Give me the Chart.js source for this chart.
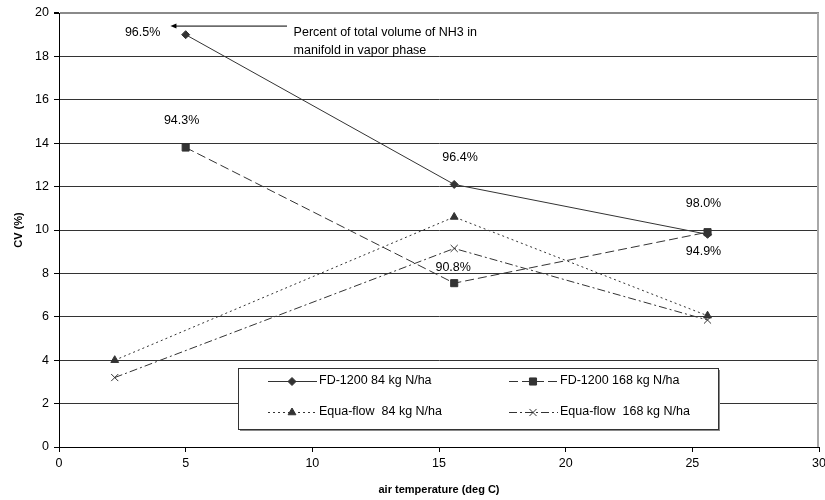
<!DOCTYPE html>
<html lang="en">
<head>
  <meta charset="UTF-8">
  <title>CV vs air temperature</title>
  <style>
    html, body { margin: 0; padding: 0; background: #fff; }
    .chart-box { position: relative; width: 825px; height: 500px; }
  </style>
  <script src="https://cdn.jsdelivr.net/npm/chart.js"></script>
</head>
<body>
  <div class="chart-box"><canvas id="cvChart"></canvas></div>

  <script>
    // data
    const fdTemps = [5.0, 15.6, 25.6];
    const equaTemps = [2.2, 15.6, 25.6];
    const fd84 = [19.0, 12.1, 9.8];
    const fd168 = [13.8, 7.55, 9.9];
    const equa84 = [4.0, 10.6, 6.05];
    const equa168 = [3.2, 9.15, 5.85];
    const seriesNames = ['FD-1200 84 kg N/ha', 'FD-1200 168 kg N/ha', 'Equa-flow  84 kg N/ha', 'Equa-flow  168 kg N/ha'];
    const fd84Pct = ['96.5%', '96.4%', '98.0%'];
    const fd168Pct = ['94.3%', '90.8%', '94.9%'];
    const noteLines = ['Percent of total volume of NH3 in', 'manifold in vapor phase'];
    const xTicks = [0, 5, 10, 15, 20, 25, 30];
    const yTicks = [0, 2, 4, 6, 8, 10, 12, 14, 16, 18, 20];

    const FONT = "'Liberation Sans', Arial, sans-serif";
    const FSIZE = 12.5;
    const INK = '#333';

    function pts(xs, ys) {
      return xs.map((x, i) => ({ x: x, y: ys[i] }));
    }

    // where the percent labels sit (data units)
    const pctPlaces = [
      [[3.3, 19.12], [15.83, 13.32], [25.44, 11.22]],
      [[4.84, 15.05], [15.56, 8.25], [25.44, 8.99]]
    ];

    const extras = {
      id: 'extras',
      afterDatasetsDraw(chart) {
        const { ctx, chartArea: a, scales } = chart;
        const sx = scales.x, sy = scales.y;
        ctx.save();

        // right frame line
        ctx.strokeStyle = '#a8a8a8';
        ctx.lineWidth = 2;
        ctx.beginPath();
        ctx.moveTo(a.right - 1, a.top);
        ctx.lineTo(a.right - 1, a.bottom);
        ctx.stroke();

        // percent labels
        ctx.fillStyle = '#000';
        ctx.font = FSIZE + 'px ' + FONT;
        ctx.textAlign = 'center';
        ctx.textBaseline = 'middle';
        [fd84Pct, fd168Pct].forEach((labels, s) => {
          labels.forEach((t, i) => {
            const p = pctPlaces[s][i];
            ctx.fillText(t, sx.getPixelForValue(p[0]), sy.getPixelForValue(p[1]));
          });
        });

        // arrow + note
        const ay = sy.getPixelForValue(19.42);
        const ax0 = sx.getPixelForValue(9.0);
        const ax1 = sx.getPixelForValue(4.4);
        ctx.strokeStyle = '#000';
        ctx.lineWidth = 1;
        ctx.beginPath();
        ctx.moveTo(ax0, ay + 0.5);
        ctx.lineTo(ax1 + 4, ay + 0.5);
        ctx.stroke();
        ctx.beginPath();
        ctx.moveTo(ax1, ay + 0.5);
        ctx.lineTo(ax1 + 6, ay - 2);
        ctx.lineTo(ax1 + 6, ay + 3);
        ctx.closePath();
        ctx.fill();

        ctx.textAlign = 'left';
        const nx = sx.getPixelForValue(9.26);
        const ny = sy.getPixelForValue(19.1);
        noteLines.forEach((t, i) => ctx.fillText(t, nx, ny + i * 18.5));

        // legend box
        const lx = 238, ly = 368, lw = 480, lh = 61;
        ctx.fillStyle = '#8a8a8a';
        ctx.fillRect(lx + 2, ly + 2, lw, lh);
        ctx.fillStyle = '#fff';
        ctx.fillRect(lx, ly, lw, lh);
        ctx.strokeStyle = INK;
        ctx.lineWidth = 1;
        ctx.strokeRect(lx + 0.5, ly + 0.5, lw, lh);

        chart.data.datasets.forEach((ds, i) => {
          const col = i % 2, row = Math.floor(i / 2);
          const x0 = lx + (col === 0 ? 30 : 271);
          const yy = ly + (row === 0 ? 13 : 44);
          ctx.strokeStyle = ds.borderColor;
          ctx.lineWidth = 1;
          ctx.setLineDash(ds.borderDash || []);
          ctx.beginPath();
          ctx.moveTo(x0, yy + 0.5);
          ctx.lineTo(x0 + 49, yy + 0.5);
          ctx.stroke();
          ctx.setLineDash([]);
          if (Chart.helpers && Chart.helpers.drawPoint) {
            ctx.fillStyle = ds.pointBackgroundColor;
            ctx.strokeStyle = ds.pointBorderColor;
            ctx.lineWidth = 1;
            Chart.helpers.drawPoint(ctx, { pointStyle: ds.pointStyle, radius: ds.pointRadius, rotation: 0, borderWidth: 1 }, x0 + 24, yy + 0.5);
          }
          ctx.fillStyle = '#000';
          ctx.font = FSIZE + 'px ' + FONT;
          ctx.textAlign = 'left';
          ctx.textBaseline = 'middle';
          ctx.fillText(ds.label, x0 + 51, yy);
        });

        ctx.restore();
      }
    };

    function lineSet(label, xs, ys, dash, style, radius) {
      return {
        label: label,
        data: pts(xs, ys),
        showLine: true,
        borderColor: INK,
        borderWidth: 1,
        borderDash: dash,
        pointStyle: style,
        pointRadius: radius,
        pointHoverRadius: radius,
        pointBackgroundColor: INK,
        pointBorderColor: INK,
        pointBorderWidth: 1
      };
    }

    new Chart(document.getElementById('cvChart'), {
      type: 'scatter',
      data: {
        datasets: [
          lineSet(seriesNames[0], fdTemps, fd84, [], 'rectRot', 4),
          lineSet(seriesNames[1], fdTemps, fd168, [9, 4], 'rect', 5),
          lineSet(seriesNames[2], equaTemps, equa84, [2, 3], 'triangle', 4.5),
          lineSet(seriesNames[3], equaTemps, equa168, [8, 3, 2, 3], 'crossRot', 5)
        ]
      },
      options: {
        responsive: true,
        maintainAspectRatio: false,
        animation: false,
        layout: { padding: { top: 13, right: -2, left: 0, bottom: 0 } },
        plugins: {
          legend: { display: false },
          tooltip: { enabled: false }
        },
        scales: {
          x: {
            type: 'linear',
            min: 0,
            max: 30,
            afterBuildTicks: s => { s.ticks = xTicks.map(v => ({ value: v })); },
            afterFit: s => { s.height = 53; s.paddingRight = 0; s.paddingLeft = 0; },
            border: { color: '#000', width: 1 },
            grid: { drawOnChartArea: false, drawTicks: true, tickLength: 5, tickColor: '#000' },
            ticks: { color: '#000', padding: 4, maxRotation: 0, font: { family: FONT, size: FSIZE } },
            title: {
              display: true,
              text: 'air temperature (deg C)',
              color: '#000',
              padding: { top: 3, bottom: 3 },
              font: { family: FONT, size: 11, weight: 'bold' }
            }
          },
          y: {
            type: 'linear',
            min: 0,
            max: 20,
            afterBuildTicks: s => { s.ticks = yTicks.map(v => ({ value: v })); },
            afterFit: s => { s.width = 59; },
            border: { color: '#000', width: 1 },
            grid: {
              color: c => c.tick && c.tick.value === 20 ? '#8a8a8a' : '#333',
              lineWidth: c => c.tick && c.tick.value === 20 ? 2 : 1,
              drawTicks: true,
              tickLength: 5,
              tickColor: '#000'
            },
            ticks: { color: '#000', padding: 5, font: { family: FONT, size: FSIZE } },
            title: {
              display: true,
              text: 'CV (%)',
              color: '#000',
              padding: { top: 12, bottom: 0 },
              font: { family: FONT, size: 11, weight: 'bold' }
            }
          }
        }
      },
      plugins: [extras]
    });
  </script>
</body>
</html>
